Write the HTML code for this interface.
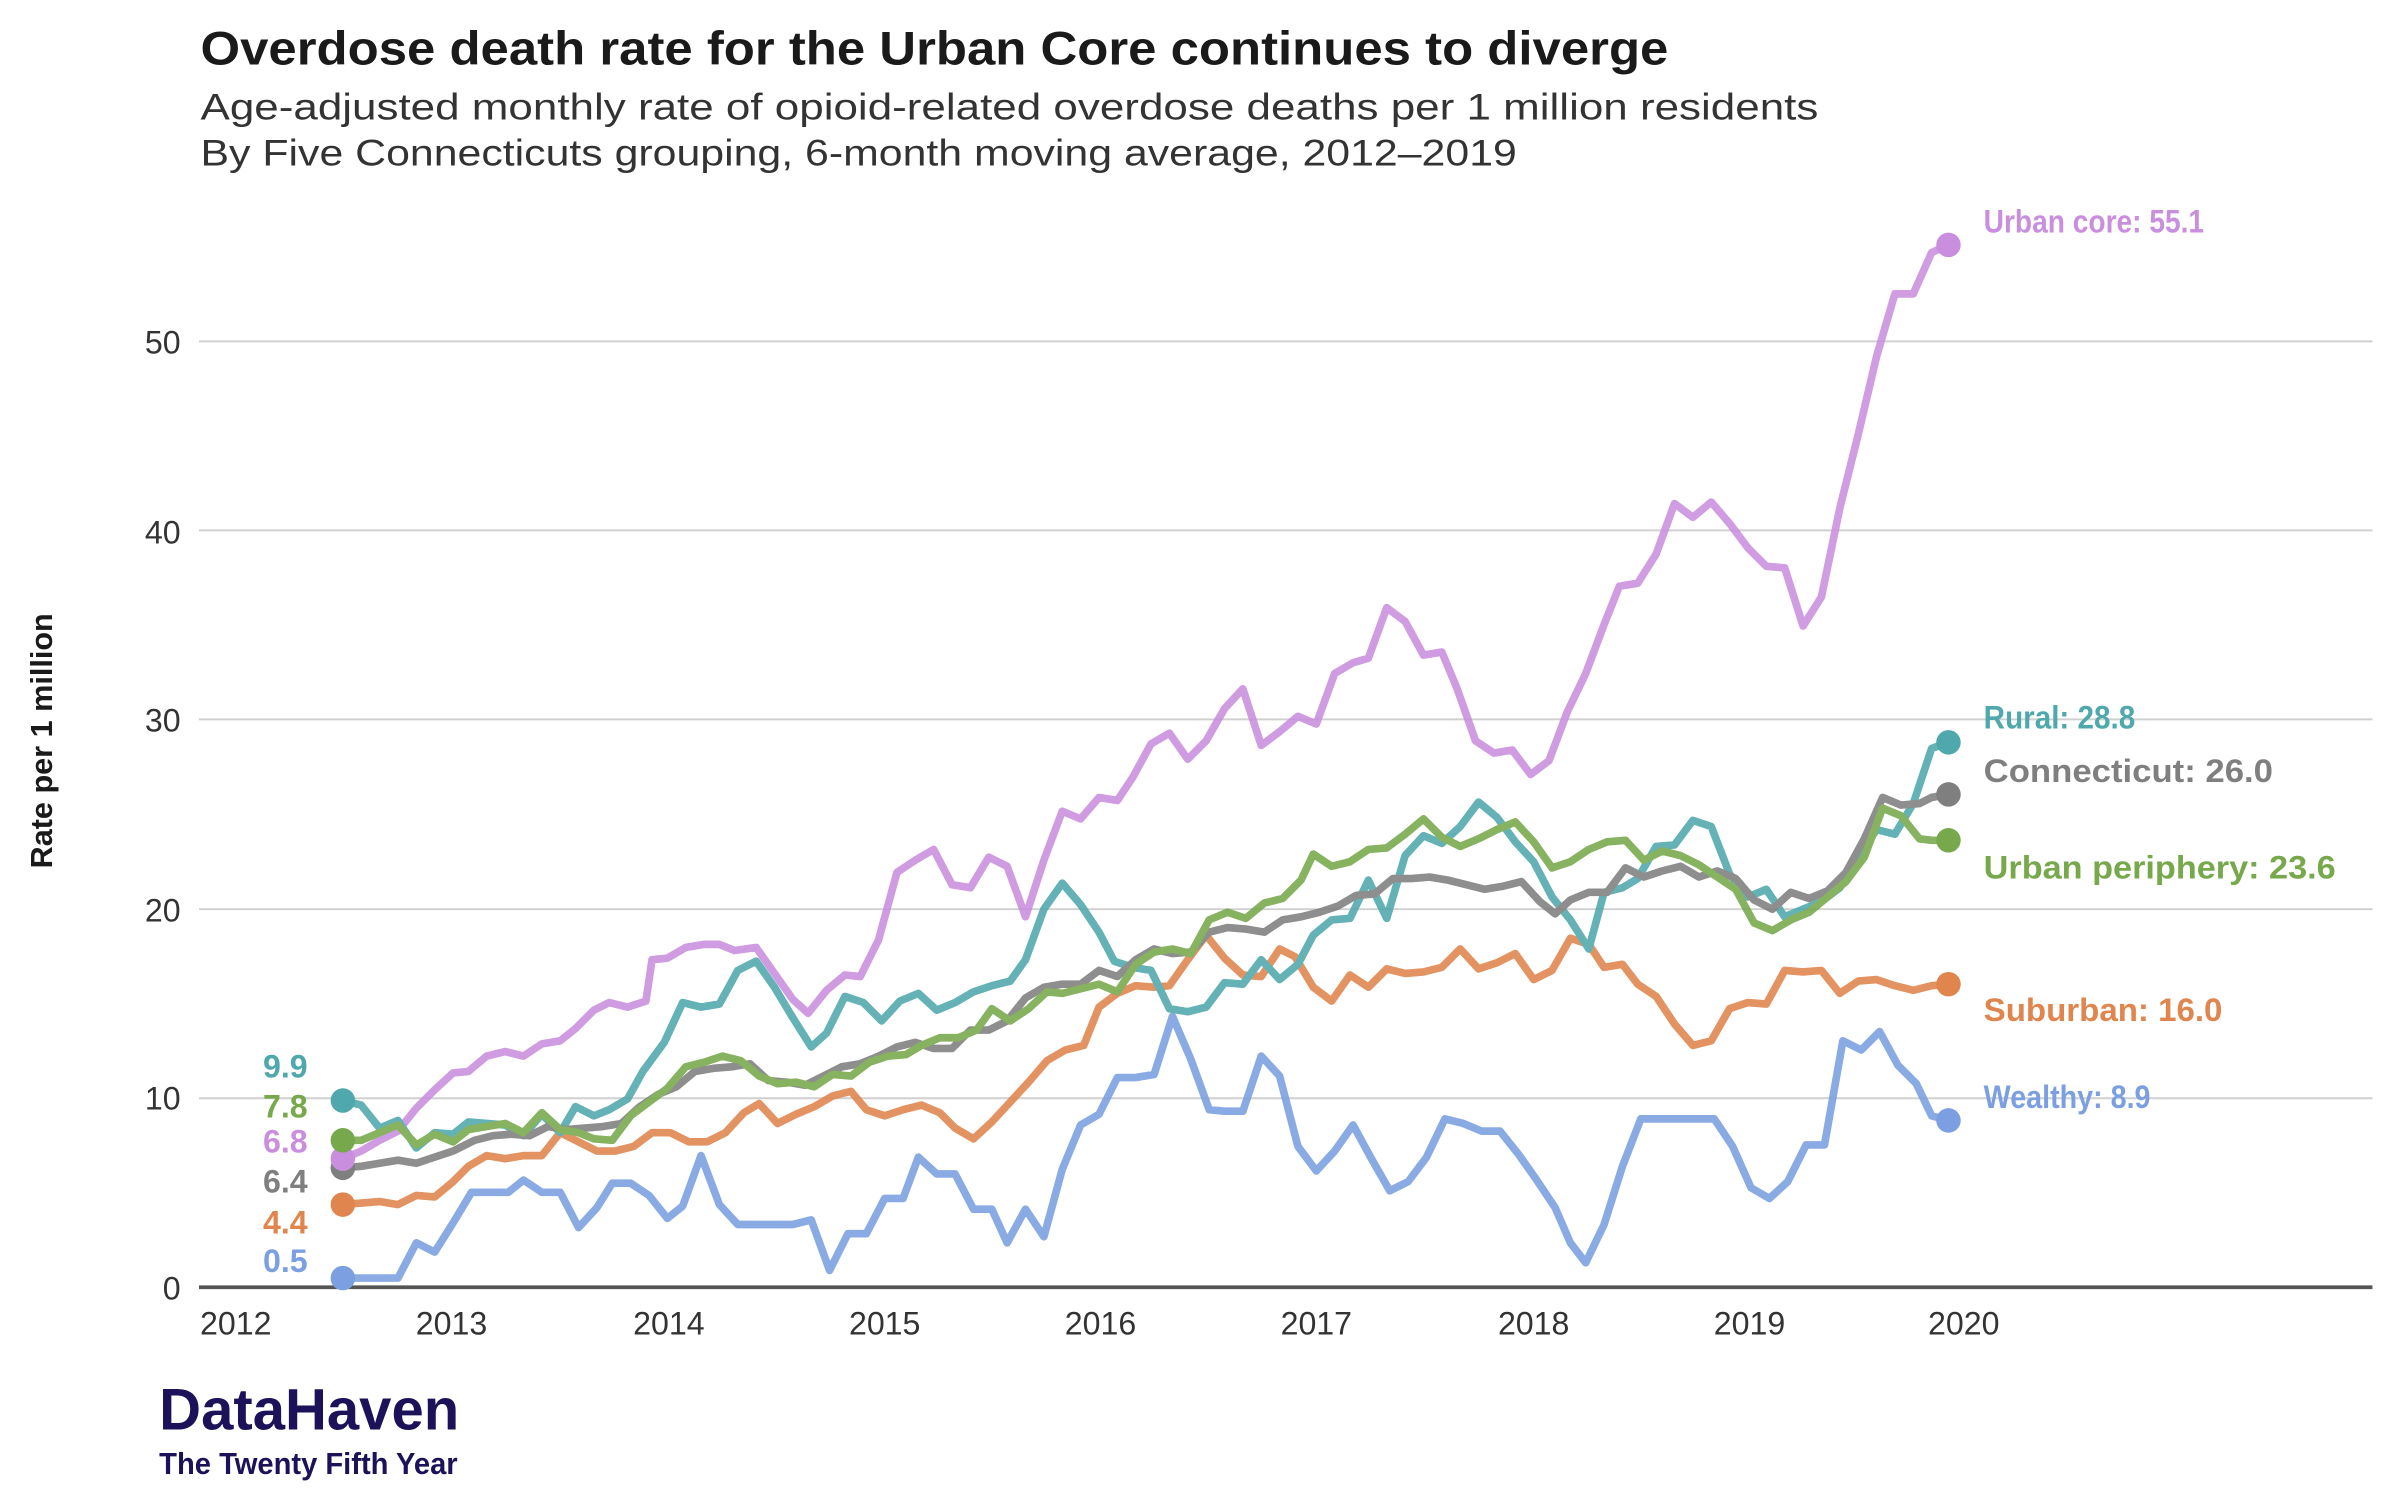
<!DOCTYPE html>
<html><head><meta charset="utf-8"><style>
html,body{margin:0;padding:0;background:#fff;}
svg{display:block;}
text{font-family:"Liberation Sans Narrow","Liberation Sans",sans-serif;}
</style></head><body>
<svg width="2400" height="1500" viewBox="0 0 1568 980" preserveAspectRatio="none" xmlns="http://www.w3.org/2000/svg">
<rect width="1568" height="980" fill="#fff"/>
<text x="131" y="42" font-size="31" font-weight="bold" fill="#1a1a1a" font-family="Liberation Sans" textLength="959" lengthAdjust="spacingAndGlyphs">Overdose death rate for the Urban Core continues to diverge</text>
<text x="131" y="78" font-size="24" fill="#333" font-family="Liberation Sans" textLength="1057" lengthAdjust="spacingAndGlyphs">Age-adjusted monthly rate of opioid-related overdose deaths per 1 million residents</text>
<text x="131" y="108" font-size="24" fill="#333" font-family="Liberation Sans" textLength="860" lengthAdjust="spacingAndGlyphs">By Five Connecticuts grouping, 6-month moving average, 2012–2019</text>
<g stroke="#d0d0d0" stroke-width="1.3">
<line x1="130" y1="717.5" x2="1550" y2="717.5"/><line x1="130" y1="594" x2="1550" y2="594"/>
<line x1="130" y1="470" x2="1550" y2="470"/><line x1="130" y1="346.5" x2="1550" y2="346.5"/>
<line x1="130" y1="223" x2="1550" y2="223"/></g>
<g font-size="21" fill="#333" text-anchor="end">
<text x="118" y="849">0</text><text x="118" y="725">10</text><text x="118" y="602">20</text>
<text x="118" y="478">30</text><text x="118" y="355">40</text><text x="118" y="231">50</text></g>
<g font-size="21" fill="#333" text-anchor="middle">
<text x="154" y="872">2012</text><text x="295" y="872">2013</text><text x="437" y="872">2014</text>
<text x="578" y="872">2015</text><text x="719" y="872">2016</text><text x="860" y="872">2017</text>
<text x="1002" y="872">2018</text><text x="1143" y="872">2019</text><text x="1283" y="872">2020</text></g>
<text transform="translate(34,484) rotate(-90)" font-size="20" font-weight="bold" fill="#1a1a1a" text-anchor="middle">Rate per 1 million</text>
<g fill="none" stroke-width="5" stroke-linejoin="round" stroke-linecap="round" opacity="0.88">
<polyline stroke="#c98ede" points="224,757 236,752 248,745 260,739 272,724 284,712 296,701 306,700 318,690 330,687 342,690 354,682 366,680 376,672 388,660 398,655 410,658 422,654 426,627 436,626 448,619 460,617 470,617 480,621 494,619 506,636 518,653 528,662 540,647 552,637 562,638 574,614 586,570 598,562 610,555 622,578 634,580 646,560 658,566 670,599 682,562 694,530 706,535 718,521 730,523 740,508 752,486 764,479 776,496 788,484 800,463 812,450 824,487 836,478 848,468 860,473 872,440 884,433 894,430 906,397 918,406 930,428 942,426 952,450 964,484 976,492 988,490 1000,506 1012,497 1024,465 1036,440 1048,408 1058,383 1070,381 1082,362 1094,329 1106,338 1118,328 1130,342 1142,358 1154,370 1166,371 1178,409 1190,390 1202,332 1214,284 1226,233 1238,192 1250,192 1262,165 1273,160"/>
<polyline stroke="#e0854d" points="224,787 236,786 248,785 260,787 272,781 284,782 296,772 306,762 318,755 330,757 342,755 354,755 366,740 378,746 390,752 402,752 414,749 426,740 438,740 450,746 462,746 474,740 486,727 496,721 508,734 520,728 532,723 544,716 556,713 566,725 578,729 590,725 602,722 614,727 624,737 636,744 648,733 660,720 672,707 684,693 696,686 708,683 718,658 730,649 742,644 754,645 764,644 776,627 788,611 800,626 812,637 824,638 836,620 846,625 858,645 870,654 882,637 894,645 906,633 918,636 930,635 942,632 954,620 966,633 978,629 990,623 1002,640 1014,634 1026,613 1038,617 1048,632 1060,630 1070,643 1082,651 1094,669 1106,683 1118,680 1130,659 1142,655 1154,656 1166,634 1178,635 1190,634 1202,649 1214,641 1226,640 1238,644 1250,647 1262,644 1273,643"/>
<polyline stroke="#7b9fe0" points="224,835 236,835 248,835 260,835 272,812 284,818 296,799 308,779 320,779 332,779 342,771 354,779 366,779 378,802 390,789 400,773 412,773 424,781 436,796 446,788 458,755 470,787 482,800 494,800 506,800 518,800 530,797 542,830 554,806 566,806 578,783 590,783 600,756 612,767 624,767 636,790 648,790 658,812 670,790 682,808 694,764 706,735 718,728 730,704 742,704 754,702 766,664 778,692 790,725 800,726 812,726 824,690 836,703 848,749 860,765 872,752 884,735 896,757 908,778 920,772 932,756 944,731 956,734 968,739 980,739 992,754 1004,771 1016,789 1026,812 1036,825 1048,800 1060,762 1072,731 1084,731 1096,731 1108,731 1120,731 1132,749 1144,776 1156,783 1168,772 1180,748 1192,748 1204,680 1216,686 1228,674 1240,696 1252,708 1262,729 1273,732"/>
<polyline stroke="#4fa8ab" points="224,719 236,722 248,737 260,732 272,750 284,740 296,741 306,733 318,734 330,735 342,742 354,728 366,740 376,723 388,729 398,725 410,718 420,700 434,681 446,655 458,658 470,656 482,634 494,628 506,645 518,665 530,684 540,675 552,651 564,655 576,667 588,654 600,649 612,660 624,655 636,648 648,644 660,641 670,627 682,594 694,577 706,591 718,609 728,628 740,632 752,634 764,659 776,661 788,658 800,642 812,643 824,627 836,640 848,630 858,611 870,601 882,600 894,575 906,600 918,559 930,546 942,551 954,540 966,524 978,534 990,550 1002,563 1014,586 1026,601 1038,620 1048,583 1060,580 1070,574 1082,553 1094,552 1106,536 1118,540 1130,571 1142,586 1154,581 1166,599 1178,594 1190,589 1202,580 1214,560 1226,542 1238,545 1250,525 1262,489 1273,485"/>
<polyline stroke="#7f7f7f" points="224,763 236,762 248,760 260,758 272,760 284,756 296,752 310,745 322,742 334,741 346,742 358,736 370,738 382,737 394,736 406,734 418,723 430,715 442,710 454,700 466,698 478,697 490,695 502,706 514,707 526,709 538,703 550,697 562,695 574,690 586,684 598,681 610,685 622,685 634,673 646,673 658,667 670,652 682,645 694,643 706,643 718,634 730,638 742,627 754,620 766,623 778,622 790,609 802,606 814,607 826,609 838,601 850,599 862,596 874,592 886,585 898,584 910,574 922,574 934,573 946,575 958,578 970,581 982,579 994,576 1006,589 1016,597 1026,588 1038,583 1050,583 1062,567 1074,573 1086,569 1098,566 1110,573 1122,569 1134,574 1146,588 1158,594 1170,583 1182,587 1194,582 1206,570 1218,548 1230,521 1242,526 1254,525 1262,521 1273,519"/>
<polyline stroke="#77a84b" points="224,745 236,745 248,740 260,735 272,748 284,741 296,746 306,738 318,736 330,734 342,740 354,727 366,738 378,740 388,744 400,745 412,729 424,720 436,711 448,697 460,694 472,690 484,693 496,703 508,708 520,707 532,710 544,702 556,703 568,694 580,690 592,689 602,683 614,678 626,678 638,673 648,659 660,667 672,659 684,648 694,649 706,646 718,643 730,648 742,630 754,622 766,620 778,623 790,601 802,596 814,600 826,590 838,587 850,575 858,558 870,566 882,563 894,555 906,554 918,545 930,535 942,547 954,553 966,548 978,542 990,537 1002,550 1014,567 1026,563 1038,555 1050,550 1062,549 1074,562 1086,556 1098,559 1110,565 1122,573 1134,581 1146,603 1158,608 1170,601 1182,596 1194,586 1206,576 1218,560 1230,528 1242,533 1254,548 1262,549 1273,549"/>
</g>
<line x1="130" y1="841" x2="1550" y2="841" stroke="#555" stroke-width="2.5"/>
<g>
<circle cx="224" cy="719" r="8" fill="#4fa8ab"/><circle cx="224" cy="763" r="8" fill="#7f7f7f"/>
<circle cx="224" cy="757" r="8" fill="#c98ede"/><circle cx="224" cy="745" r="8" fill="#77a84b"/>
<circle cx="224" cy="787" r="8" fill="#e0854d"/><circle cx="224" cy="835" r="8" fill="#7b9fe0"/>
<circle cx="1273" cy="160" r="8" fill="#c98ede"/><circle cx="1273" cy="485" r="8" fill="#4fa8ab"/>
<circle cx="1273" cy="519" r="8" fill="#7f7f7f"/><circle cx="1273" cy="549" r="8" fill="#77a84b"/>
<circle cx="1273" cy="643" r="8" fill="#e0854d"/><circle cx="1273" cy="732" r="8" fill="#7b9fe0"/>
</g>
<g font-size="21" font-weight="bold" text-anchor="end">
<text x="201" y="704" fill="#4fa8ab">9.9</text><text x="201" y="730" fill="#77a84b">7.8</text>
<text x="201" y="753" fill="#c98ede">6.8</text><text x="201" y="779" fill="#7f7f7f">6.4</text>
<text x="201" y="806" fill="#e0854d">4.4</text><text x="201" y="831" fill="#7b9fe0">0.5</text></g>
<g font-size="21" font-weight="bold">
<text x="1296" y="152" fill="#c98ede" textLength="144" lengthAdjust="spacingAndGlyphs">Urban core: 55.1</text>
<text x="1296" y="476" fill="#4fa8ab" textLength="99" lengthAdjust="spacingAndGlyphs">Rural: 28.8</text>
<text x="1296" y="511" fill="#7f7f7f" textLength="189" lengthAdjust="spacingAndGlyphs">Connecticut: 26.0</text>
<text x="1296" y="574" fill="#77a84b" textLength="230" lengthAdjust="spacingAndGlyphs">Urban periphery: 23.6</text>
<text x="1296" y="667" fill="#e0854d" textLength="156" lengthAdjust="spacingAndGlyphs">Suburban: 16.0</text>
<text x="1296" y="724" fill="#7b9fe0" textLength="109" lengthAdjust="spacingAndGlyphs">Wealthy:  8.9</text></g>
<text x="104" y="934" font-size="38" font-weight="bold" fill="#1c1259" textLength="196" lengthAdjust="spacingAndGlyphs">DataHaven</text>
<text x="104" y="963" font-size="20" font-weight="bold" fill="#1c1259" textLength="195" lengthAdjust="spacingAndGlyphs">The Twenty Fifth Year</text>
</svg>
</body></html>
